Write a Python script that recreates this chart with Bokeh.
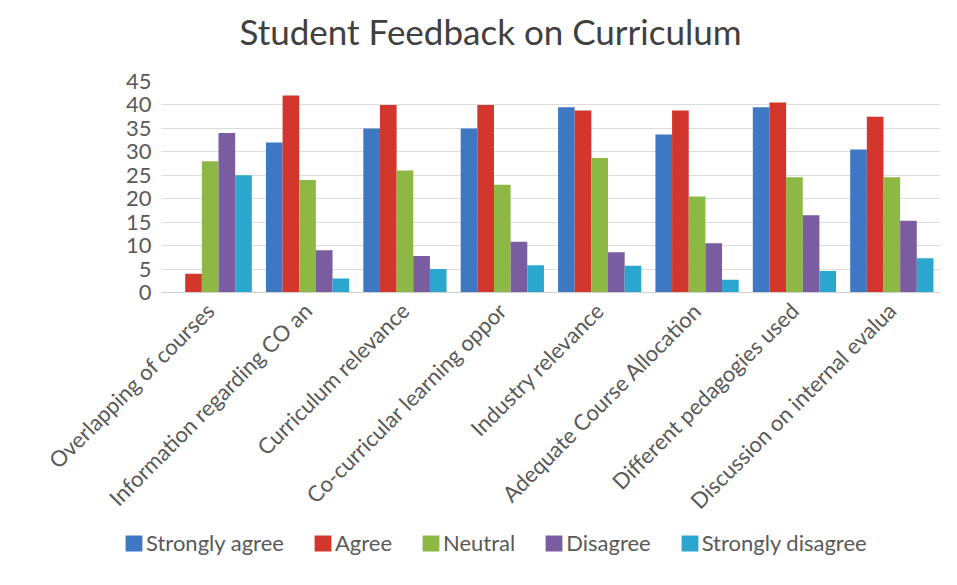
import math
from bokeh.plotting import figure
from bokeh.layouts import column
from bokeh.models import (ColumnDataSource, FactorRange, Range1d, Legend, LegendItem,
                          Label, FixedTicker)
from bokeh.transform import dodge
from bokeh.embed import file_html
from bokeh.resources import INLINE

categories = [
    "Overlapping of courses",
    "Information regarding CO an",
    "Curriculum relevance",
    "Co-curricular learning oppor",
    "Industry relevance",
    "Adequate Course Allocation",
    "Different pedagogies used",
    "Discussion on internal evalua",
]
strongly_agree = [0, 32, 35, 35, 39.5, 33.7, 39.5, 30.5]
agree = [4, 42, 40, 40, 38.8, 38.8, 40.5, 37.5]
neutral = [28, 24, 26, 23, 28.7, 20.5, 24.6, 24.6]
disagree = [34, 9, 7.8, 10.8, 8.6, 10.5, 16.5, 15.3]
strongly_disagree = [25, 3, 5, 5.8, 5.7, 2.7, 4.6, 7.3]

series_names = ["Strongly agree", "Agree", "Neutral", "Disagree", "Strongly disagree"]
series_keys = ["sa", "a", "n", "d", "sd"]
series_colors = ["#3F78C2", "#D2362C", "#8DB843", "#7A5CA0", "#2BA6CF"]
y_ticks = [0, 5, 10, 15, 20, 25, 30, 35, 40, 45]
chart_title = "Student Feedback on Curriculum"

source = ColumnDataSource(data=dict(
    cat=categories, sa=strongly_agree, a=agree, n=neutral,
    d=disagree, sd=strongly_disagree,
))

FONT = "Lato"
GRAY = "#595959"
W = 941


def blank(height):
    f = figure(width=W, height=height, output_backend="svg", toolbar_location=None,
               x_axis_location=None, y_axis_location=None, min_border=0,
               background_fill_color="white", border_fill_color="white")
    f.grid.visible = False
    f.outline_line_color = None
    f.frame_align = False
    return f


# ---- title strip ----
p_title = blank(60)
p_title.add_layout(Label(x=490, y=30, x_units="screen", y_units="screen",
                         text=chart_title, text_align="center", text_baseline="middle",
                         text_font=FONT, text_font_size="35px", text_color="#404040"))

# ---- main chart ----
p = figure(
    x_range=FactorRange(*categories, range_padding=0),
    y_range=Range1d(0, 45),
    width=W, height=469,
    output_backend="svg", toolbar_location=None,
    min_border_left=161, min_border_right=1,
    min_border_top=21, min_border_bottom=237,
    background_fill_color="white", border_fill_color="white",
)
p.outline_line_color = None
p.frame_align = False

bw = 0.171
offsets = [-2 * bw, -bw, 0, bw, 2 * bw]
for key, col, off in zip(series_keys, series_colors, offsets):
    p.vbar(x=dodge("cat", off, range=p.x_range), top=key, width=bw,
           source=source, fill_color=col, line_color=None)

p.yaxis.ticker = FixedTicker(ticks=y_ticks)
p.yaxis.axis_line_color = None
p.yaxis.major_tick_line_color = None
p.yaxis.minor_tick_line_color = None
p.yaxis.major_label_text_font = FONT
p.yaxis.major_label_text_font_size = "22px"
p.yaxis.major_label_text_color = GRAY
p.yaxis.major_label_standoff = 4

p.xaxis.axis_line_color = "#D0D0D0"
p.xaxis.major_tick_line_color = None
p.xaxis.minor_tick_line_color = None
p.xaxis.major_label_orientation = math.pi / 4
p.xaxis.major_label_text_font = FONT
p.xaxis.major_label_text_font_size = "22px"
p.xaxis.major_label_text_color = GRAY
p.xaxis.major_label_standoff = 8

p.xgrid.grid_line_color = None
p.ygrid.grid_line_color = "#DCDCDC"
p.ygrid.grid_line_width = 1

# ---- legend strip ----
p_leg = blank(40)
items = []
for name, col in zip(series_names, series_colors):
    r = p_leg.vbar(x=[0], top=[0], width=0.001, fill_color=col, line_color=None)
    items.append(LegendItem(label=name, renderers=[r]))
legend = Legend(items=items, orientation="horizontal", location=(123, 13),
                label_text_font=FONT, label_text_font_size="22px",
                label_text_color=GRAY, glyph_width=21, glyph_height=20,
                label_height=20, label_standoff=2, spacing=28, padding=0, margin=0,
                border_line_color=None, background_fill_alpha=0)
p_leg.add_layout(legend)

layout = column(p_title, p, p_leg, spacing=0)
open("out.html", "w").write(file_html(layout, INLINE))
